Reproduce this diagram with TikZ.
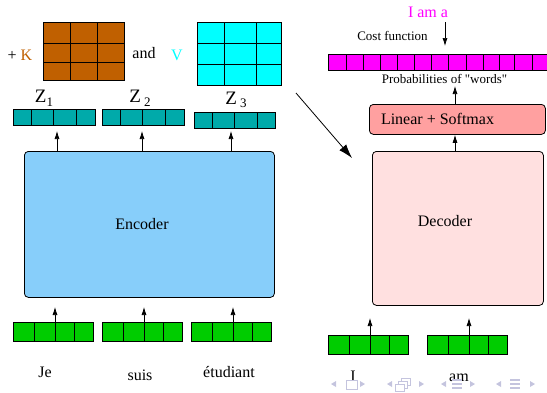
\documentclass[tikz,border=0pt]{standalone}
\usepackage{fontspec}
\setmainfont{Liberation Serif}
\newfontfamily\nolig[Ligatures=TeXOff]{Liberation Serif}
\usetikzlibrary{arrows.meta,calc}
\definecolor{kbrown}{RGB}{192,96,0}
\definecolor{vcyan}{RGB}{0,255,255}
\definecolor{zteal}{RGB}{0,170,170}
\definecolor{ingreen}{RGB}{0,204,0}
\definecolor{encblue}{RGB}{135,206,250}
\definecolor{decpink}{RGB}{255,224,224}
\definecolor{linpink}{RGB}{255,160,160}
\definecolor{outmag}{RGB}{255,0,255}
\definecolor{navgray}{RGB}{196,196,222}
\newcommand\fs[1]{\fontsize{#1}{#1}\selectfont}
\newcommand\mycells[2]{\foreach \f in {#2} \draw[cellline] ($(#1.north west)!\f!(#1.north east)$) -- ($(#1.south west)!\f!(#1.south east)$);}
\begin{document}
\begin{tikzpicture}[x=1pt,y=-1pt,
  block/.style={draw, line width=0.8pt, rounded corners=4pt, inner sep=0pt, anchor=north west},
  vecbox/.style={draw, line width=0.8pt, inner sep=0pt, anchor=north west},
  cellline/.style={line width=0.7pt},
  txt/.style={anchor=base, inner sep=0pt, font=\fs{16}},
  small/.style={anchor=base, inner sep=0pt, font=\fs{13}},
  arr/.style={line width=0.7pt, -{Latex[length=8pt,width=5pt]}},
  bigarr/.style={line width=0.8pt, -{Latex[length=14pt,width=9pt]}},
  nav/.style={fill=navgray, draw=none}
]
\useasboundingbox (0,0) rectangle (547,392);

% K and V matrices
\node[vecbox, fill=kbrown, minimum width=81pt, minimum height=58pt] (kmat) at (43,22) {};
\mycells{kmat}{0.333,0.667}
\draw[cellline] (kmat.west |- 0,43) -- (kmat.east |- 0,43);
\draw[cellline] (kmat.west |- 0,62) -- (kmat.east |- 0,62);
\node[vecbox, fill=vcyan, minimum width=84pt, minimum height=63pt] (vmat) at (197,22) {};
\mycells{vmat}{0.32,0.70}
\draw[cellline] (vmat.west |- 0,43) -- (vmat.east |- 0,43);
\draw[cellline] (vmat.west |- 0,64) -- (vmat.east |- 0,64);
\node[txt] (klab) at (20,60) {+ \textcolor{kbrown}{K}};
\node[txt] (andlab) at (144,58) {and};
\node[txt] (vlab) at (177,60) {\textcolor{vcyan}{V}};

% Z labels and vectors
\node[anchor=base, inner sep=0pt, font=\fs{19}] (z1lab) at (44,102) {Z\raisebox{-4pt}{\fs{13}1}};
\node[anchor=base, inner sep=0pt, font=\fs{19}] (z2lab) at (140,102) {Z\,\raisebox{-4pt}{\fs{13}2}};
\node[anchor=base, inner sep=0pt, font=\fs{19}] (z3lab) at (236,104) {Z\,\raisebox{-3pt}{\fs{13}3}};
\node[vecbox, fill=zteal, minimum width=82pt, minimum height=16pt] (z1) at (13,109) {};
\node[vecbox, fill=zteal, minimum width=82pt, minimum height=16pt] (z2) at (102,109) {};
\node[vecbox, fill=zteal, minimum width=81pt, minimum height=16pt] (z3) at (194,112) {};
\foreach \n in {z1,z2,z3} {\mycells{\n}{0.22,0.49,0.77}}

% Encoder
\node[block, fill=encblue, minimum width=250pt, minimum height=146pt] (enc) at (24,151) {};
\node[txt] (enclab) at (142,229) {Encoder};

% Encoder inputs
\node[vecbox, fill=ingreen, minimum width=80pt, minimum height=19pt] (x1) at (13,322) {};
\node[vecbox, fill=ingreen, minimum width=80pt, minimum height=19pt] (x2) at (102,322) {};
\node[vecbox, fill=ingreen, minimum width=80pt, minimum height=19pt] (x3) at (191,322) {};
\foreach \n in {x1,x2,x3} {\mycells{\n}{0.26,0.52,0.76}}
\node[txt] (w1) at (45,377) {Je};
\node[txt] (w2) at (140,380) {suis};
\node[txt] (w3) at (229,377) {étudiant};

% Decoder side
\node[block, fill=decpink, minimum width=171pt, minimum height=154pt] (dec) at (372,151) {};
\node[txt] (declab) at (445,226) {Decoder};
\node[block, fill=linpink, minimum width=176pt, minimum height=30pt] (lin) at (369,104) {};
\node[txt] (linlab) at (437.5,124) {Linear + Softmax};
\node[vecbox, fill=outmag, minimum width=240pt, minimum height=16pt] (out) at (328,54) {};
\foreach \xx in {346,363,380,397,414,431,448,466,483,499,514,532} \draw[cellline] (\xx,54) -- (\xx,70);
\node[small] (prob) at (444.5,83) {\nolig Probabilities of "words"};
\node[small] (cost) at (392.5,40) {Cost function};
\node[txt, text=outmag] (iama) at (428,17) {I am a};
\coordinate (costtop) at (445,22);
\draw[arr, shorten >=8pt] (costtop) -- (costtop |- out.north);

\node[vecbox, fill=ingreen, minimum width=80pt, minimum height=19pt] (d1) at (328,335) {};
\node[vecbox, fill=ingreen, minimum width=80pt, minimum height=19pt] (d2) at (427,335) {};
\foreach \n in {d1,d2} {\mycells{\n}{0.27,0.53,0.76}}
\node[txt] (dw1) at (353,381) {I};
\node[txt] (dw2) at (459,381) {am};

% Arrows
\draw[arr, shorten >=10pt] (x1.north -| 55,0) -- (55,297);
\draw[arr, shorten >=10pt] (x2.north -| 144,0) -- (144,297);
\draw[arr, shorten >=10pt] (x3.north -| 233,0) -- (233,297);
\draw[arr, shorten >=6pt] (enc.north -| 57,0) -- (57,125);
\draw[arr, shorten >=6pt] (enc.north -| 142,0) -- (142,125);
\draw[arr, shorten >=4pt] (enc.north -| 231,0) -- (231,127);
\draw[arr, shorten >=13pt] (d1.north -| 370,0) -- (370,305);
\draw[arr, shorten >=13pt] (d2.north -| 469,0) -- (469,305);
\draw[arr] (dec.north -| 455,0) -- (lin.south -| 455,0);
\draw[arr, shorten >=1pt] (lin.north -| 455,0) -- (455,85);
\coordinate (dstart) at (296,93);
\coordinate (dend) at (352,158);
\draw[bigarr] (dstart) -- (dend);

% navigation symbols
\foreach \xx in {333,389,443,498} \fill[nav] (\xx+3,381) -- (\xx-2,384) -- (\xx+3,387) -- cycle;
\foreach \xx in {363,422,473,533} \fill[nav] (\xx-3,381) -- (\xx+2,384) -- (\xx-3,387) -- cycle;
\draw[navgray, line width=1pt] (346,380) rectangle (357,389);
\draw[navgray, line width=1pt, fill=white] (401,378) rectangle (410,385);
\draw[navgray, line width=1pt, fill=white] (398,381) rectangle (407,388);
\draw[navgray, line width=1pt, fill=white] (395,384) rectangle (404,391);
\foreach \xx in {457,515} {\foreach \yy in {380,384,388} \draw[navgray, line width=1.2pt] (\xx-5,\yy) -- (\xx+5,\yy);}
\end{tikzpicture}
\end{document}
